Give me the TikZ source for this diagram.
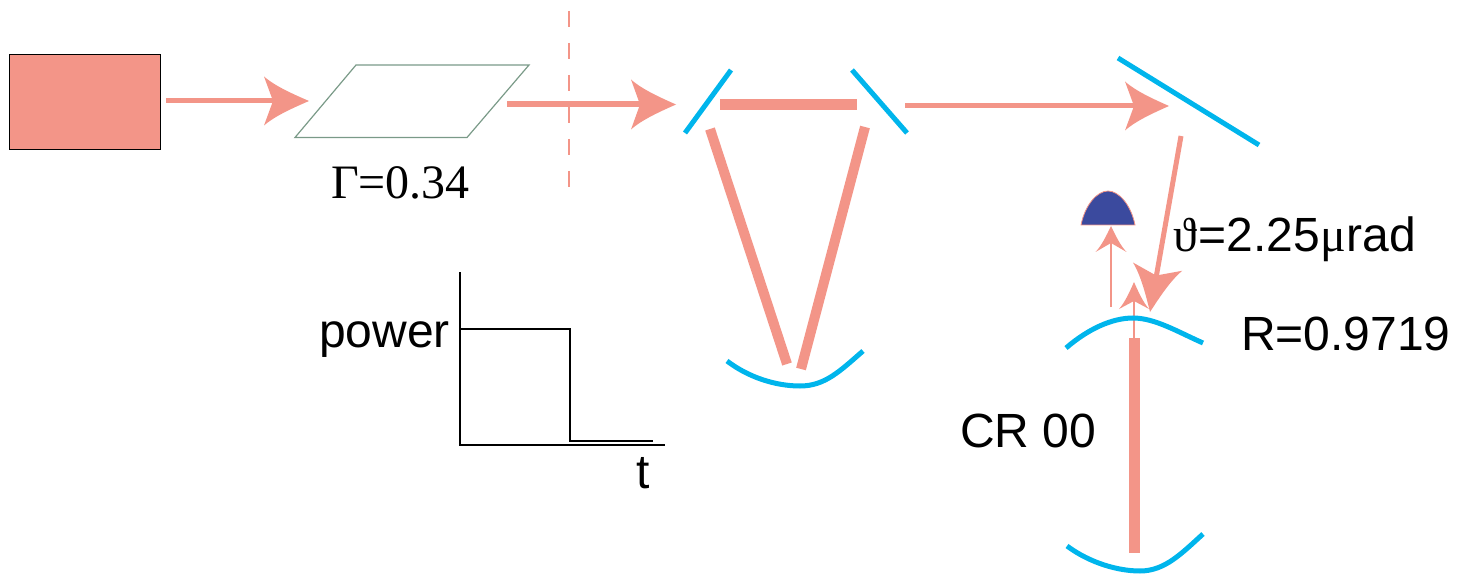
\documentclass[tikz,border=0pt]{standalone}
\usepackage{fontspec}
\setmainfont{Liberation Sans}
\newfontfamily\timesf{Liberation Serif}
\definecolor{salmon}{HTML}{F39588}
\definecolor{mirrorblue}{HTML}{00B5EC}
\definecolor{detblue}{HTML}{3B4A9E}
\definecolor{platelc}{HTML}{7A9A88}
\tikzset{
  x=1pt,y=-1pt,
  beam/.style={draw=salmon,line width=#1},
  mirror/.style={draw=mirrorblue,line width=5pt},
  graphline/.style={draw=black,line width=1.2pt},
  label/.style={anchor=base west,inner sep=0pt,outer sep=0pt,font=\fontsize{48}{48}\selectfont},
  serif/.style={anchor=base west,inner sep=0pt,outer sep=0pt,font=\timesf\fontsize{48}{48}\selectfont},
}
% arrowhead: #1 tip, #2 direction (canvas angle), #3 length, #4 half width, #5 notch depth from tip
\newcommand{\headtip}[5]{%
  \fill[salmon,shift={(#1)},rotate=#2]
    (0,0) .. controls (-#3*0.35,#4*0.28) and (-#3*0.75,#4*0.6) .. (-#3,#4)
    -- (-#5,0)
    -- (-#3,-#4)
    .. controls (-#3*0.75,-#4*0.6) and (-#3*0.35,-#4*0.28) .. (0,0) -- cycle;}
\begin{document}
\begin{tikzpicture}
\useasboundingbox (0,0) rectangle (1466,577);
% named points
\coordinate (a1s) at (166,101); \coordinate (a1e) at (274,101); \coordinate (a1t) at (309,101);
\coordinate (a2s) at (507,104.5); \coordinate (a2e) at (642,104.5); \coordinate (a2t) at (676,104.5);
\coordinate (a3s) at (905,106); \coordinate (a3e) at (1135,106); \coordinate (a3t) at (1169,106);
\coordinate (a4s) at (1181,136); \coordinate (a4e) at (1156,278); \coordinate (a4t) at (1150,312);
\coordinate (d1s) at (1111,307); \coordinate (d1e) at (1111,240); \coordinate (d1t) at (1111,226);
\coordinate (d2s) at (1134,338); \coordinate (d2e) at (1134,298); \coordinate (d2t) at (1134,282);
\coordinate (dashT) at (569,11); \coordinate (dashB) at (569,187);
% laser box
\node[draw=black,fill=salmon,line width=1.4pt,minimum width=151pt,minimum height=95pt,inner sep=0pt,anchor=north west] (laser) at (9,54) {};
% plate
\draw[draw=platelc,line width=1.2pt] (356,65) -- (529,65) -- (467,137.5) -- (295,137.5) -- cycle;
\node[serif] (gamma) at (331,199) {Γ=0.34};
% dashed
\draw[salmon,line width=2pt,dash pattern=on 16pt off 16pt] (dashT) -- (dashB);
% arrows
\draw[beam=5pt] (a1s) -- (a1e); \headtip{a1t}{0}{45}{24.5}{36}
\draw[beam=6pt] (a2s) -- (a2e); \headtip{a2t}{0}{45}{25}{36}
\draw[beam=5pt] (a3s) -- (a3e); \headtip{a3t}{0}{44}{24.5}{35}
\draw[beam=5pt] (a4s) -- (a4e); \headtip{a4t}{-99.5}{46}{25}{37}
\draw[beam=1.6pt] (d1s) -- (d1e); \headtip{d1t}{90}{26}{15.5}{17}
\draw[beam=1.6pt] (d2s) -- (d2e); \headtip{d2t}{90}{27}{15}{19}
% first cavity
\coordinate (m1a) at (731,70); \coordinate (m1b) at (685,133);
\coordinate (m2a) at (852,70); \coordinate (m2b) at (907,133);
\draw[mirror] (m1a) -- (m1b);
\draw[mirror] (m2a) -- (m2b);
\coordinate (b1s) at (720,104.5); \coordinate (b1e) at (857,104.5);
\coordinate (b2s) at (710,129); \coordinate (b2e) at (787,364);
\coordinate (b3s) at (865,127); \coordinate (b3e) at (801,369);
\draw[beam=11pt] (b1s) -- (b1e);
\draw[beam=10pt] (b2s) -- (b2e);
\draw[beam=10pt] (b3s) -- (b3e);
\draw[mirror] (727,361) .. controls (748,377) and (775,386) .. (800,386) .. controls (825,386) and (840,371) .. (863,351);
% steering mirror
\coordinate (m3a) at (1118,58); \coordinate (m3b) at (1259,145);
\draw[mirror] (m3a) -- (m3b);
% detector
\draw[draw=salmon,fill=detblue,line width=0.8pt] (1081,225) .. controls (1085,205) and (1097,191) .. (1108,191) .. controls (1119,191) and (1131,205) .. (1135,225) -- cycle;
% second cavity
\draw[mirror] (1066,348) .. controls (1088,329) and (1112,318) .. (1133,318) .. controls (1155,318) and (1178,332) .. (1203,343);
\coordinate (b4s) at (1134,338); \coordinate (b4e) at (1134,553);
\draw[beam=11pt] (b4s) -- (b4e);
\draw[mirror] (1067,546) .. controls (1090,563) and (1118,571) .. (1140,571) .. controls (1165,571) and (1182,553) .. (1203,534);
% graph
\coordinate (gTop) at (460,272); \coordinate (gO) at (460,445); \coordinate (gR) at (665,445);
\draw[graphline] (gTop) -- (gO) -- (gR);
\draw[graphline] (460,329) -- (570,329) -- (570,441) -- (653,441);
% labels
\node[label] (power) at (319,347) {power};
\node[label] (tlabel) at (636,488) {t};
\node[label] (theta) at (1173,252) {{\timesf ϑ}\kern2pt=2.25{\timesf μ}\kern1pt rad};
\node[label] (refl) at (1241,350) {R=0.9719};
\node[label] (cr) at (960,447) {CR 00};
\end{tikzpicture}
\end{document}
